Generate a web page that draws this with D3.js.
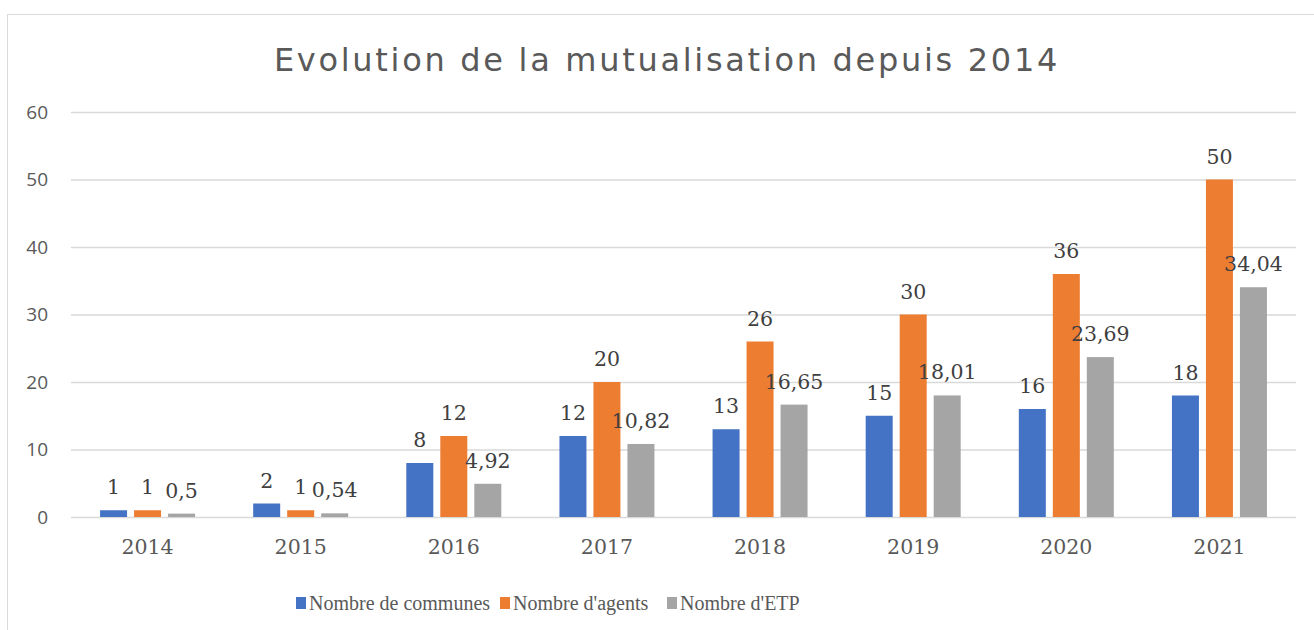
<!DOCTYPE html>
<meta charset="utf-8">
<script src="https://d3js.org/d3.v7.min.js"></script>
<style>
  body { margin: 0; background: #fff; }
</style>
<div id="my_dataviz"></div>
<script>

  // data
  var years = ["2014", "2015", "2016", "2017", "2018", "2019", "2020", "2021"];
  var communes = [1, 2, 8, 12, 13, 15, 16, 18];
  var agents = [1, 1, 12, 20, 26, 30, 36, 50];
  var etp = [0.5, 0.54, 4.92, 10.82, 16.65, 18.01, 23.69, 34.04];
  var seriesNames = ["Nombre de communes", "Nombre d'agents", "Nombre d'ETP"];
  var yTicks = [0, 10, 20, 30, 40, 50, 60];

  var colors = ["#4472C4", "#ED7D31", "#A5A5A5"];
  var serif = "'DejaVu Serif', 'Liberation Serif', serif";

  var W = 1314, H = 630;
  var margin = {top: 112, left: 71, right: 18, bottom: 113};
  var width = W - margin.left - margin.right;
  var height = H - margin.top - margin.bottom;

  var svg = d3.select("#my_dataviz")
    .append("svg")
      .attr("width", W)
      .attr("height", H);

  // chart border
  svg.append("rect")
    .attr("x", 7.5).attr("y", 14.5)
    .attr("width", W).attr("height", H)
    .attr("fill", "none")
    .attr("stroke", "#d9d9d9");

  svg.append("text")
    .attr("x", 667).attr("y", 71)
    .attr("text-anchor", "middle")
    .attr("font-family", "'DejaVu Sans', sans-serif")
    .attr("font-size", 32)
    .attr("letter-spacing", 2.7)
    .attr("fill", "#595959")
    .text("Evolution de la mutualisation depuis 2014");

  var g = svg.append("g")
    .attr("transform", "translate(" + margin.left + "," + margin.top + ")");

  var x = d3.scaleBand().domain(years).range([0, width]);
  var y = d3.scaleLinear().domain([0, 60]).range([height, 0]);

  var barW = 27, step = 34;

  // gridlines
  g.append("g")
    .call(d3.axisLeft(y).tickValues(yTicks).tickSize(-width).tickFormat(""))
    .call(function(a) {
      a.select(".domain").remove();
      a.selectAll("line").attr("stroke", "#d9d9d9").attr("stroke-width", 1.3);
    });

  // y labels
  g.append("g")
    .call(d3.axisLeft(y).tickValues(yTicks).tickSize(0).tickPadding(23))
    .call(function(a) {
      a.select(".domain").remove();
      a.selectAll("text")
        .attr("font-family", "'Open Sans', sans-serif")
        .attr("font-size", 19)
        .attr("fill", "#595959");
    });

  // x labels
  g.append("g")
    .attr("transform", "translate(0," + height + ")")
    .call(d3.axisBottom(x).tickSize(0).tickPadding(22))
    .call(function(a) {
      a.select(".domain").remove();
      a.selectAll("text")
        .attr("font-family", serif)
        .attr("font-size", 20.5)
        .attr("fill", "#595959");
    });

  var series = [communes, agents, etp];

  series.forEach(function(vals, s) {
    var off = (s - 1) * step;

    g.selectAll(".bar" + s)
      .data(vals)
      .enter()
      .append("rect")
      .attr("x", function(d, i) { return x(years[i]) + x.bandwidth() / 2 + off - barW / 2; })
      .attr("y", function(d) { return y(d); })
      .attr("width", barW)
      .attr("height", function(d) { return height - y(d); })
      .attr("fill", colors[s]);

    g.selectAll(".lab" + s)
      .data(vals)
      .enter()
      .append("text")
      .attr("x", function(d, i) { return x(years[i]) + x.bandwidth() / 2 + off; })
      .attr("y", function(d) { return y(d) - 16; })
      .attr("text-anchor", "middle")
      .attr("font-family", serif)
      .attr("font-size", 20.5)
      .attr("fill", "#404040")
      .text(function(d) { return String(d).replace(".", ","); });
  });

  // legend
  var legendX = [296, 500, 667];
  var legend = svg.append("g");
  seriesNames.forEach(function(name, i) {
    legend.append("rect")
      .attr("x", legendX[i]).attr("y", 597)
      .attr("width", 10).attr("height", 12)
      .attr("fill", colors[i]);
    legend.append("text")
      .attr("x", legendX[i] + 13).attr("y", 610)
      .attr("font-family", "'Liberation Serif', serif")
      .attr("font-size", 20)
      .attr("fill", "#595959")
      .text(name);
  });

</script>
